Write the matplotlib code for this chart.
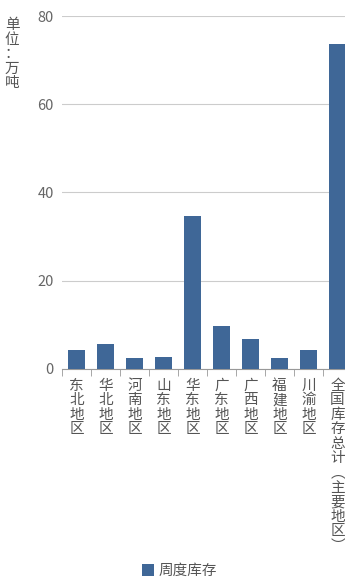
import numpy as np
import matplotlib.pyplot as plt
from matplotlib.ticker import FixedLocator

plt.rcParams['font.family'] = ['Noto Sans CJK SC', 'DejaVu Sans']

regions = ['东北地区', '华北地区', '河南地区', '山东地区', '华东地区',
           '广东地区', '广西地区', '福建地区', '川渝地区', '全国库存总计︵主要地区︶']
stock = [4.3, 5.7, 2.5, 2.7, 34.7, 9.7, 6.7, 2.5, 4.3, 73.7]
yticks = [0, 20, 40, 60, 80]

bar_color = '#3f6797'
grey = '#666666'

fig = plt.figure(figsize=(3.45, 5.81), dpi=100)
ax = fig.add_axes([62/345, 1 - 369/581, 290/345, 353/581])

x = np.arange(len(regions))
ax.bar(x, stock, width=0.62, color=bar_color, label='周度库存', zorder=3)

ax.set_xlim(-0.5, len(regions) - 0.5)
ax.set_ylim(0, 80)
ax.set_yticks(yticks)
ax.yaxis.grid(True, color='#cccccc', linewidth=0.8, zorder=0)
ax.tick_params(axis='y', length=0, pad=6, labelsize=10.5, labelcolor=grey)

ax.set_xticks(x)
ax.set_xticklabels(['\n'.join(r) for r in regions], fontsize=10.5,
                   color='#555555', linespacing=1.05, va='top')
ax.tick_params(axis='x', which='major', length=0, pad=7)
ax.xaxis.set_minor_locator(FixedLocator(np.arange(len(regions) + 1) - 0.5))
ax.tick_params(axis='x', which='minor', length=5, color='#999999')

for s in ['top', 'right', 'left']:
    ax.spines[s].set_visible(False)
ax.spines['bottom'].set_color('#999999')

fig.text(12/345, 1 - 18/581, '\n'.join('单位：万吨'), fontsize=10.5, color='#555555',
         ha='center', va='top', linespacing=1.05)

fig.legend(loc='center', bbox_to_anchor=(0.52, 1 - 571/581), frameon=False,
           fontsize=10.5, handlelength=0.8, handleheight=0.8, handletextpad=0.3,
           labelcolor='#555555')

fig.savefig('out.png', dpi=100)
